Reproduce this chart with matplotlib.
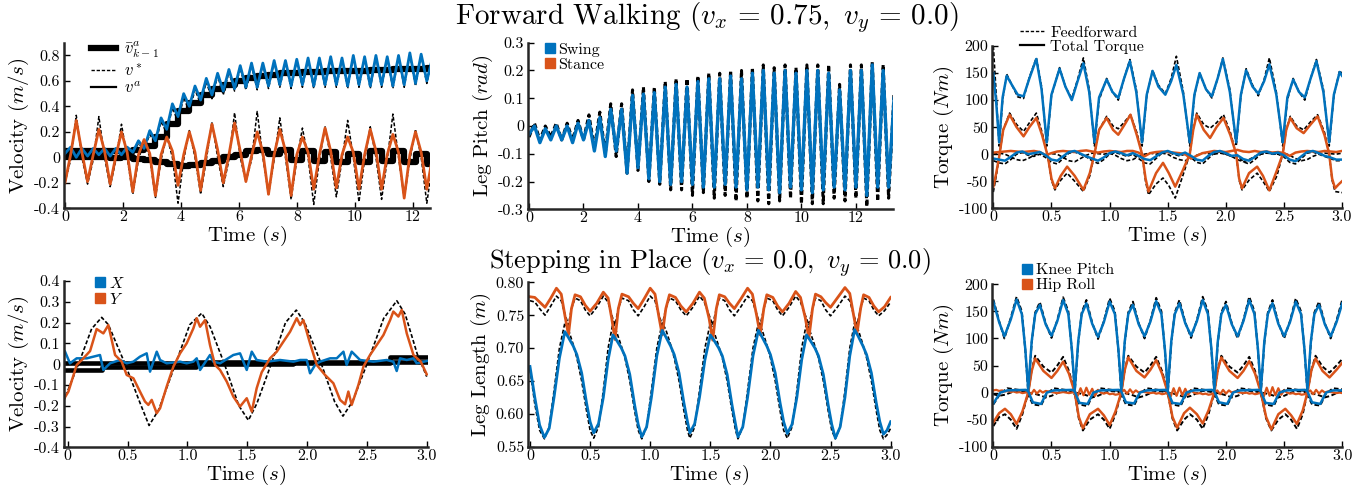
import numpy as np
import matplotlib
matplotlib.use('Agg')
import matplotlib.pyplot as plt
from matplotlib.lines import Line2D

plt.rcParams.update({
    'font.family': 'serif',
    'font.serif': ['cmr10'],
    'mathtext.fontset': 'cm',
    'axes.formatter.use_mathtext': True,
    'axes.unicode_minus': False,
})

BLUE = '#0072BD'
ORANGE = '#D95319'
DASH = (0, (2.4, 1.3))

# ---------------- Forward walking: velocity (sampled every 0.195 s) ----------------
dt_walk = 0.195
vx_walk = [0.03, 0.08, 0.00, 0.07, 0.01, 0.07, 0.02, 0.07, 0.01, 0.07, 0.02, 0.08,
           0.04, 0.13, 0.07, 0.21, 0.13, 0.31, 0.22, 0.42, 0.32, 0.50, 0.40, 0.56,
           0.45, 0.62, 0.49, 0.66, 0.52, 0.69, 0.54, 0.72, 0.55, 0.74, 0.55, 0.74,
           0.56, 0.76, 0.57, 0.76, 0.56, 0.77, 0.57, 0.78, 0.56, 0.78, 0.57, 0.79,
           0.57, 0.78, 0.56, 0.80, 0.57, 0.79, 0.56, 0.80, 0.57, 0.79, 0.56, 0.80,
           0.57, 0.82, 0.58, 0.81, 0.60, 0.78]
vx_walk_ref = [0.02, 0.06, 0.01, 0.06, 0.02, 0.06, 0.02, 0.06, 0.02, 0.06, 0.02, 0.07,
               0.03, 0.11, 0.06, 0.18, 0.11, 0.28, 0.19, 0.39, 0.28, 0.47, 0.36, 0.53,
               0.42, 0.59, 0.46, 0.64, 0.49, 0.67, 0.52, 0.70, 0.53, 0.72, 0.53, 0.73,
               0.54, 0.75, 0.55, 0.75, 0.54, 0.76, 0.55, 0.77, 0.54, 0.77, 0.55, 0.78,
               0.55, 0.77, 0.54, 0.79, 0.55, 0.78, 0.54, 0.79, 0.55, 0.78, 0.54, 0.79,
               0.55, 0.81, 0.56, 0.80, 0.58, 0.79]
vy_walk = [-0.20, 0.02, 0.29, 0.04, -0.19, 0.02, 0.22, 0.05, -0.21, 0.01, 0.20, 0.04,
           -0.27, 0.02, 0.14, 0.03, -0.30, 0.02, 0.16, 0.05, -0.22, 0.02, 0.20, 0.04,
           -0.26, 0.03, 0.26, 0.06, -0.20, 0.02, 0.27, 0.05, -0.19, 0.01, 0.20, 0.04,
           -0.29, 0.02, 0.22, 0.05, -0.30, 0.02, 0.16, 0.04, -0.25, 0.02, 0.23, 0.05,
           -0.24, 0.02, 0.16, 0.04, -0.25, 0.02, 0.22, 0.05, -0.25, 0.02, 0.18, 0.04,
           -0.32, 0.02, 0.20, 0.04, -0.25, 0.00]
vy_walk_ref = [-0.20, -0.02, 0.33, 0.00, -0.21, -0.02, 0.32, 0.00, -0.23, -0.02, 0.26, 0.00,
               -0.29, -0.02, 0.13, 0.00, -0.32, -0.02, 0.17, 0.00, -0.36, -0.02, 0.21, 0.00,
               -0.29, -0.02, 0.28, 0.00, -0.23, -0.02, 0.35, 0.00, -0.19, -0.02, 0.36, 0.00,
               -0.29, -0.02, 0.31, 0.00, -0.33, -0.02, 0.23, 0.00, -0.37, -0.02, 0.24, 0.00,
               -0.31, -0.02, 0.29, 0.00, -0.35, -0.02, 0.24, 0.00, -0.33, -0.02, 0.34, 0.00,
               -0.32, -0.02, 0.22, 0.00, -0.36, -0.05]
# step averages (one value per 0.39 s step)
dt_step = 0.39
vx_walk_avg = [0.05, 0.05, 0.05, 0.05, 0.05, 0.05, 0.06, 0.09, 0.16, 0.26, 0.36, 0.43,
               0.49, 0.54, 0.57, 0.60, 0.62, 0.64, 0.65, 0.66, 0.665, 0.67, 0.67, 0.675,
               0.68, 0.68, 0.68, 0.685, 0.685, 0.69, 0.69, 0.69, 0.70, 0.70]
vy_walk_avg = [0.0, 0.0, 0.0, 0.0, -0.005, 0.0, -0.01, -0.02, -0.035, -0.05, -0.065, -0.06,
               -0.045, -0.025, 0.0, 0.02, 0.05, 0.055, 0.03, 0.06, -0.02, 0.05, -0.03, 0.04,
               -0.04, 0.03, -0.04, 0.05, -0.03, 0.05, -0.04, 0.03, -0.05, -0.06]

# ---------------- Forward walking: leg pitch (extrema every 0.2 s) ----------------
dt_pitch = 0.2
pitch_trough = [-0.03, -0.06, -0.05, -0.05, -0.06, -0.05, -0.09, -0.11, -0.09, -0.17, -0.15, -0.19,
                -0.20, -0.21, -0.20, -0.21, -0.22, -0.22, -0.21, -0.22, -0.23, -0.22, -0.23, -0.24,
                -0.22, -0.23, -0.24, -0.23, -0.22, -0.23, -0.22, -0.25, -0.22, -0.22]
pitch_peak = [0.0, -0.01, 0.0, 0.0, 0.01, 0.02, 0.03, 0.06, 0.06, 0.11, 0.115, 0.12,
              0.14, 0.15, 0.14, 0.16, 0.17, 0.17, 0.18, 0.17, 0.19, 0.20, 0.19, 0.20,
              0.19, 0.20, 0.20, 0.19, 0.13, 0.20, 0.20, 0.22, 0.20, 0.10]
pitch_ref_trough = [-0.04, -0.05, -0.04, -0.05, -0.05, -0.05, -0.08, -0.10, -0.11, -0.17, -0.16, -0.20,
                    -0.21, -0.23, -0.23, -0.25, -0.24, -0.26, -0.25, -0.27, -0.26, -0.27, -0.28, -0.27,
                    -0.26, -0.28, -0.28, -0.28, -0.26, -0.27, -0.26, -0.29, -0.27, -0.26]
pitch_ref_peak = [0.01, 0.0, 0.01, 0.01, 0.02, 0.04, 0.05, 0.08, 0.08, 0.13, 0.14, 0.14,
                  0.16, 0.17, 0.17, 0.18, 0.19, 0.19, 0.20, 0.20, 0.21, 0.22, 0.21, 0.22,
                  0.21, 0.22, 0.22, 0.22, 0.15, 0.22, 0.22, 0.23, 0.22, 0.12]

# ---------------- Forward walking: torques ----------------
knee_w_t = [0.0, 0.025,
            0.05, 0.08, 0.115, 0.16, 0.21, 0.26, 0.31, 0.37, 0.415,
            0.46, 0.50, 0.57, 0.62, 0.675, 0.725, 0.775, 0.825,
            0.87, 0.91, 0.975, 1.025, 1.075, 1.125, 1.175, 1.23,
            1.28, 1.32, 1.37, 1.42, 1.48, 1.53, 1.575, 1.635,
            1.69, 1.73, 1.775, 1.83, 1.88, 1.93, 1.975, 2.035,
            2.09, 2.13, 2.175, 2.23, 2.28, 2.33, 2.375, 2.435,
            2.49, 2.53, 2.58, 2.63, 2.68, 2.73, 2.78, 2.84,
            2.89, 2.93, 2.98, 3.0]
knee_w = [150, 95,
          22, 105, 145, 128, 110, 107, 140, 176, 120,
          22, 110, 158, 125, 100, 135, 168, 115,
          22, 105, 138, 115, 104, 140, 172, 115,
          22, 110, 154, 125, 110, 135, 165, 110,
          22, 110, 150, 120, 107, 140, 176, 115,
          22, 110, 155, 125, 112, 135, 166, 110,
          22, 105, 138, 115, 105, 140, 172, 115,
          22, 110, 152, 145]
knee_w_ff = [200, 110,
             15, 100, 148, 128, 106, 103, 142, 178, 125,
             15, 108, 160, 125, 103, 138, 178, 120,
             15, 100, 140, 115, 100, 140, 175, 120,
             15, 108, 155, 128, 112, 140, 181, 115,
             15, 108, 150, 120, 104, 140, 178, 120,
             15, 108, 158, 128, 108, 138, 178, 115,
             15, 100, 140, 115, 100, 140, 175, 120,
             15, 108, 155, 148]
hip_w_t = [0.0, 0.025,
           0.05, 0.085, 0.14, 0.2, 0.26, 0.31, 0.37, 0.42,
           0.47, 0.5, 0.53, 0.58, 0.635, 0.7, 0.775, 0.83,
           0.87, 0.91, 0.975, 1.03, 1.075, 1.13, 1.18, 1.235,
           1.28, 1.31, 1.335, 1.4, 1.46, 1.51, 1.565, 1.63,
           1.69, 1.72, 1.75, 1.81, 1.865, 1.92, 1.98, 2.04,
           2.09, 2.115, 2.14, 2.2, 2.27, 2.32, 2.375, 2.44,
           2.49, 2.52, 2.555, 2.61, 2.67, 2.73, 2.79, 2.85,
           2.89, 2.915, 2.94, 2.97, 3.0]
hip_w = [-60, -35,
         -5, 45, 73, 50, 33, 50, 67, 35,
         -5, -45, -63, -40, -23, -40, -66, -35,
         0, 45, 67, 45, 36, 55, 73, 35,
         0, -45, -69, -35, -16, -35, -60, -30,
         0, 45, 73, 45, 30, 50, 67, 35,
         0, -45, -63, -35, -23, -40, -67, -30,
         0, 45, 67, 48, 39, 55, 70, 35,
         0, -45, -63, -56, -50]
hip_w_ff = [-70, -40,
            -5, 45, 76, 55, 42, 58, 76, 40,
            -5, -48, -66, -48, -35, -50, -69, -40,
            0, 45, 70, 52, 47, 60, 73, 40,
            0, -50, -75, -55, -44, -58, -81, -40,
            0, 45, 76, 55, 48, 58, 73, 40,
            0, -48, -66, -48, -35, -50, -69, -40,
            0, 45, 70, 52, 45, 60, 73, 40,
            0, -48, -69, -70, -71]
# near-zero traces, sampled every 0.05 s
knee_w_low = [-8, -10, -12, -5, 3, 5, 0, 2, 4, -2,
              -10, -12, -4, 4, 6, 1, -4, -8, -12, -6,
              2, 5, 2, -2, 2, -3, -9, -11, -4, 3,
              6, 2, -1, 3, -3, -10, -12, -3, 4, 6,
              2, -3, -2, -9, -12, -5, 3, 5, 1, 3,
              -2, -10, -13, -4, 4, 6, 2, -3, -6, -10, -10]
knee_w_low_ff = [-12, -16, -18, -10, 0, 3, -2, -4, 0, -6,
                 -15, -18, -8, 2, 4, 0, -5, -12, -17, -10,
                 0, 3, 0, -4, 0, -8, -16, -18, -8, 2,
                 4, 0, -3, 0, -6, -15, -18, -8, 2, 4,
                 0, -4, -2, -14, -18, -10, 0, 3, 0, 0,
                 -5, -15, -18, -8, 2, 4, 0, -4, -8, -12, -12]
hip_w_low = [3, 4, 5, 6, 5, 4, 5, 6, 4, -2,
             2, 5, 6, 5, 4, 6, 7, 5, 3, 5,
             6, 5, 4, 6, 6, 3, -4, 2, 4, 5,
             4, 3, 2, 0, -8, -3, 2, 4, 6, 5,
             4, 6, 8, 5, 4, 6, 4, 5, 3, 4,
             2, -3, 3, 5, 6, 5, 4, 6, 5, 4, 6]
hip_w_low_ff = [0, 2, 0, -5, -10, -12, -8, -2, 2, 0,
                1, 0, -6, -12, -14, -8, -2, 2, 1, 0,
                2, -2, -8, -12, -10, -4, 0, 2, 0, 2,
                0, -6, -10, -12, -8, -2, 2, 1, 0, 2,
                0, -4, -10, -14, -10, -4, 0, 2, 1, 0,
                2, -2, -8, -12, -10, -4, 0, 2, 1, 0, 2]

# ---------------- Stepping in place: velocity ----------------
vy_step_t = [-0.036, 0.006, 0.075, 0.131, 0.187, 0.242, 0.298, 0.340, 0.396, 0.451,
             0.493, 0.549, 0.604, 0.646, 0.674, 0.702, 0.744, 0.772, 0.827, 0.883,
             0.939, 0.994, 1.050, 1.078, 1.106, 1.148, 1.189, 1.231, 1.273, 1.329,
             1.384, 1.440, 1.496, 1.538, 1.579, 1.621, 1.691, 1.747, 1.802, 1.858,
             1.914, 1.942, 1.969, 2.025, 2.081, 2.150, 2.220, 2.276, 2.318, 2.345,
             2.373, 2.429, 2.471, 2.526, 2.582, 2.638, 2.694, 2.721, 2.763, 2.791,
             2.833, 2.889, 2.950, 3.000]
vy_step = [-0.172, -0.132, -0.004, 0.028, 0.063, 0.169, 0.148, 0.188, 0.044, 0.012,
           -0.052, -0.068, -0.132, -0.180, -0.196, -0.172, -0.236, -0.212, -0.108, -0.012,
           0.052, 0.100, 0.172, 0.221, 0.180, 0.212, 0.092, -0.004, -0.028, -0.084,
           -0.156, -0.204, -0.164, -0.228, -0.116, -0.039, 0.028, 0.060, 0.108, 0.156,
           0.221, 0.188, 0.212, 0.100, -0.004, -0.052, -0.092, -0.172, -0.193, -0.132,
           -0.196, -0.100, -0.012, 0.044, 0.092, 0.140, 0.212, 0.253, 0.229, 0.261,
           0.148, 0.044, 0.012, -0.049]
vy_step_ref_t = [-0.036, 0.09, 0.2, 0.284, 0.34, 0.48, 0.6, 0.68, 0.76, 0.9,
                 1.02, 1.12, 1.19, 1.31, 1.43, 1.51, 1.58, 1.7, 1.82, 1.91,
                 1.98, 2.12, 2.23, 2.30, 2.38, 2.5, 2.64, 2.75, 2.82, 2.92, 3.0]
vy_step_ref = [-0.18, 0.0, 0.17, 0.225, 0.19, 0.0, -0.18, -0.295, -0.22, 0.0,
               0.19, 0.245, 0.18, 0.0, -0.2, -0.27, -0.19, 0.0, 0.2, 0.26,
               0.2, 0.0, -0.18, -0.25, -0.18, 0.0, 0.22, 0.305, 0.24, 0.05, -0.06]
vx_step_t = [-0.022, 0.019, 0.075, 0.159, 0.270, 0.298, 0.354, 0.437, 0.493, 0.549,
             0.604, 0.660, 0.688, 0.744, 0.772, 0.827, 0.939, 0.994, 1.050, 1.078,
             1.106, 1.162, 1.189, 1.217, 1.273, 1.384, 1.440, 1.496, 1.538, 1.579,
             1.663, 1.774, 1.886, 1.942, 1.997, 2.025, 2.067, 2.109, 2.192, 2.248,
             2.304, 2.331, 2.373, 2.443, 2.554, 2.666, 2.721, 2.749, 2.777, 2.833,
             2.889, 2.916, 3.0]
vx_step = [0.060, 0.004, 0.028, 0.028, 0.044, -0.028, 0.004, 0.020, 0.004, 0.012,
           0.036, 0.052, -0.036, 0.060, 0.020, 0.004, 0.012, 0.004, 0.012, 0.028,
           -0.028, 0.020, 0.044, 0.012, 0.004, 0.044, 0.052, -0.028, 0.060, 0.020,
           0.012, 0.020, 0.012, 0.020, 0.020, -0.044, -0.004, 0.012, 0.028, 0.028,
           0.060, -0.004, 0.060, 0.020, 0.012, 0.020, 0.012, -0.033, 0.028, 0.020,
           0.028, 0.004, 0.015]
avg_a_t = [-0.04, 1.07, 1.88, 2.69, 3.01]
avg_a = [0.005, 0.008, 0.01, 0.035, 0.035]
avg_b_t = [-0.04, 0.29, 1.07, 1.88, 2.69, 3.01]
avg_b = [-0.03, -0.013, 0.0, 0.006, 0.012, 0.012]

# ---------------- Stepping in place: leg length ----------------
stance_t = [0.0, 0.04, 0.08, 0.125, 0.17, 0.22, 0.26, 0.29, 0.32,
            0.345, 0.375, 0.42, 0.46, 0.50, 0.555, 0.61, 0.65, 0.68, 0.707,
            0.735, 0.765, 0.82, 0.86, 0.90, 0.95, 1.0, 1.04, 1.07, 1.10,
            1.13, 1.16, 1.21, 1.255, 1.30, 1.355, 1.41, 1.45, 1.49, 1.52,
            1.55, 1.575, 1.62, 1.66, 1.70, 1.755, 1.81, 1.85, 1.885, 1.915,
            1.945, 1.97, 2.02, 2.06, 2.10, 2.155, 2.21, 2.25, 2.29, 2.32,
            2.35, 2.375, 2.42, 2.46, 2.50, 2.56, 2.62, 2.66, 2.69, 2.72,
            2.75, 2.775, 2.82, 2.86, 2.90, 2.95, 3.0]
stance_len = [0.778, 0.777, 0.770, 0.762, 0.775, 0.791, 0.782, 0.750, 0.720,
              0.760, 0.781, 0.778, 0.765, 0.756, 0.768, 0.785, 0.776, 0.745, 0.713,
              0.760, 0.782, 0.778, 0.768, 0.760, 0.775, 0.791, 0.782, 0.750, 0.720,
              0.760, 0.781, 0.777, 0.764, 0.755, 0.768, 0.785, 0.776, 0.745, 0.712,
              0.760, 0.781, 0.778, 0.768, 0.760, 0.775, 0.791, 0.782, 0.750, 0.720,
              0.760, 0.781, 0.777, 0.764, 0.755, 0.768, 0.786, 0.777, 0.746, 0.715,
              0.760, 0.782, 0.778, 0.769, 0.762, 0.777, 0.792, 0.783, 0.752, 0.722,
              0.760, 0.781, 0.777, 0.764, 0.755, 0.763, 0.777]
stance_len_ref = [0.772, 0.770, 0.760, 0.750, 0.763, 0.779, 0.772, 0.752, 0.735,
                  0.760, 0.776, 0.772, 0.758, 0.749, 0.762, 0.779, 0.770, 0.750, 0.735,
                  0.760, 0.776, 0.772, 0.758, 0.749, 0.763, 0.779, 0.772, 0.752, 0.735,
                  0.760, 0.776, 0.772, 0.758, 0.749, 0.762, 0.779, 0.770, 0.750, 0.735,
                  0.760, 0.776, 0.772, 0.758, 0.749, 0.763, 0.779, 0.772, 0.752, 0.735,
                  0.760, 0.776, 0.772, 0.758, 0.749, 0.762, 0.779, 0.770, 0.750, 0.735,
                  0.760, 0.776, 0.772, 0.758, 0.749, 0.763, 0.779, 0.772, 0.752, 0.735,
                  0.760, 0.776, 0.772, 0.758, 0.749, 0.757, 0.770]
swing_t = [0.0, 0.04, 0.08, 0.12, 0.16, 0.20, 0.245, 0.29,
           0.32, 0.36, 0.39, 0.43, 0.47, 0.50, 0.53, 0.57, 0.61, 0.65,
           0.69, 0.72, 0.76, 0.79, 0.83, 0.87, 0.90, 0.93, 0.97, 1.01, 1.055,
           1.10, 1.13, 1.17, 1.20, 1.24, 1.28, 1.31, 1.33, 1.37, 1.41, 1.455,
           1.50, 1.53, 1.57, 1.60, 1.64, 1.68, 1.71, 1.73, 1.77, 1.81, 1.855,
           1.90, 1.93, 1.97, 2.00, 2.04, 2.08, 2.11, 2.14, 2.18, 2.22, 2.26,
           2.30, 2.33, 2.37, 2.40, 2.44, 2.48, 2.51, 2.54, 2.58, 2.62, 2.66,
           2.70, 2.73, 2.77, 2.80, 2.84, 2.88, 2.91, 2.94, 2.97, 3.0]
swing_len = [0.672, 0.625, 0.583, 0.564, 0.578, 0.625, 0.685, 0.725,
             0.716, 0.703, 0.690, 0.662, 0.617, 0.588, 0.571, 0.585, 0.625, 0.682,
             0.720, 0.712, 0.700, 0.688, 0.660, 0.614, 0.584, 0.565, 0.580, 0.625, 0.688,
             0.727, 0.717, 0.703, 0.690, 0.662, 0.617, 0.588, 0.571, 0.585, 0.625, 0.682,
             0.720, 0.712, 0.700, 0.688, 0.660, 0.614, 0.584, 0.565, 0.580, 0.625, 0.688,
             0.727, 0.717, 0.703, 0.690, 0.662, 0.617, 0.588, 0.570, 0.584, 0.625, 0.682,
             0.720, 0.712, 0.700, 0.688, 0.660, 0.614, 0.584, 0.563, 0.580, 0.625, 0.688,
             0.728, 0.718, 0.703, 0.690, 0.662, 0.617, 0.588, 0.569, 0.575, 0.588]
swing_len_ref = [0.668, 0.615, 0.575, 0.562, 0.580, 0.635, 0.700, 0.738,
                 0.728, 0.705, 0.685, 0.650, 0.605, 0.575, 0.563, 0.580, 0.635, 0.700,
                 0.738, 0.725, 0.703, 0.685, 0.650, 0.605, 0.575, 0.562, 0.580, 0.635, 0.700,
                 0.738, 0.728, 0.705, 0.685, 0.650, 0.605, 0.575, 0.563, 0.580, 0.635, 0.700,
                 0.738, 0.725, 0.703, 0.685, 0.650, 0.605, 0.575, 0.562, 0.580, 0.635, 0.700,
                 0.738, 0.728, 0.705, 0.685, 0.650, 0.605, 0.575, 0.563, 0.580, 0.635, 0.700,
                 0.738, 0.725, 0.703, 0.685, 0.650, 0.605, 0.575, 0.562, 0.580, 0.635, 0.700,
                 0.738, 0.728, 0.705, 0.685, 0.650, 0.605, 0.575, 0.562, 0.568, 0.578]

# ---------------- Stepping in place: torques ----------------
knee_s_t = [0.0, 0.05, 0.095, 0.15, 0.2, 0.245, 0.275,
            0.3, 0.33, 0.36, 0.4, 0.45, 0.5, 0.55, 0.6, 0.645, 0.675,
            0.7, 0.73, 0.76, 0.8, 0.85, 0.9, 0.95, 1.0, 1.045, 1.075,
            1.1, 1.13, 1.16, 1.2, 1.25, 1.3, 1.35, 1.4, 1.445, 1.475,
            1.5, 1.53, 1.56, 1.6, 1.65, 1.7, 1.75, 1.8, 1.845, 1.875,
            1.9, 1.93, 1.96, 2.0, 2.05, 2.1, 2.15, 2.2, 2.245, 2.275,
            2.3, 2.33, 2.36, 2.4, 2.45, 2.5, 2.55, 2.6, 2.645, 2.675,
            2.7, 2.73, 2.76, 2.8, 2.85, 2.9, 2.95, 3.0]
knee_s = [168, 130, 104, 135, 172, 145, 80,
          5, 95, 145, 162, 126, 105, 132, 171, 145, 80,
          5, 95, 145, 165, 127, 103, 130, 168, 145, 80,
          5, 95, 145, 162, 126, 104, 131, 169, 145, 80,
          5, 95, 145, 165, 128, 105, 132, 171, 145, 80,
          5, 95, 145, 162, 126, 104, 132, 171, 145, 80,
          5, 95, 145, 165, 127, 104, 130, 168, 145, 80,
          5, 95, 145, 162, 126, 104, 130, 165]
knee_s_ff = [172, 132, 100, 138, 177, 150, 78,
             0, 92, 148, 167, 128, 101, 134, 176, 150, 78,
             0, 92, 148, 171, 129, 99, 132, 174, 150, 78,
             0, 92, 148, 168, 128, 100, 133, 175, 150, 78,
             0, 92, 148, 171, 130, 101, 134, 177, 150, 78,
             0, 92, 148, 168, 128, 100, 134, 177, 150, 78,
             0, 92, 148, 171, 129, 100, 132, 174, 150, 78,
             0, 92, 148, 168, 128, 100, 133, 172]
knee_s_low_t = [0.0, 0.06, 0.12, 0.28,
                0.3, 0.34, 0.41, 0.46, 0.52, 0.68,
                0.7, 0.74, 0.81, 0.86, 0.92, 1.08,
                1.1, 1.14, 1.21, 1.26, 1.32, 1.48,
                1.5, 1.54, 1.61, 1.66, 1.72, 1.88,
                1.9, 1.94, 2.01, 2.06, 2.12, 2.28,
                2.3, 2.34, 2.41, 2.46, 2.52, 2.68,
                2.7, 2.74, 2.81, 2.86, 2.92, 3.0]
knee_s_low = [-20, 0, 4, 5,
              2, -18, -21, 0, 4, 5,
              2, -19, -21, 0, 4, 5,
              2, -18, -20, 0, 4, 5,
              2, -19, -21, 0, 4, 5,
              2, -18, -21, 0, 4, 5,
              2, -19, -21, 0, 4, 5,
              2, -18, -21, 0, 4, 4]
knee_s_low_ff = [-22, -2, 8, 3,
                 -4, -22, -24, -2, 8, 3,
                 -4, -22, -25, -2, 8, 3,
                 -4, -22, -24, -2, 8, 3,
                 -4, -22, -25, -2, 8, 3,
                 -4, -22, -24, -2, 8, 3,
                 -4, -22, -25, -2, 8, 3,
                 -4, -22, -24, -2, 8, 6]
hip_s_t = [0.0, 0.05, 0.1, 0.15, 0.2, 0.25,
           0.3, 0.33, 0.36, 0.43, 0.5, 0.55, 0.6, 0.65,
           0.7, 0.735, 0.77, 0.83, 0.9, 0.95, 1.0, 1.05,
           1.1, 1.13, 1.16, 1.23, 1.3, 1.35, 1.4, 1.45,
           1.5, 1.54, 1.58, 1.64, 1.69, 1.75, 1.8, 1.85,
           1.9, 1.93, 1.96, 2.03, 2.1, 2.15, 2.2, 2.25,
           2.3, 2.345, 2.39, 2.45, 2.51, 2.56, 2.61, 2.66,
           2.7, 2.735, 2.77, 2.83, 2.89, 2.95, 3.0]
hip_s = [-55, -38, -30, -40, -58, -35,
         0, 40, 63, 40, 27, 40, 57, 35,
         0, -45, -66, -40, -30, -42, -60, -35,
         0, 42, 65, 40, 28, 42, 60, 35,
         0, -45, -65, -38, -28, -40, -57, -33,
         0, 42, 65, 40, 27, 40, 58, 35,
         0, -45, -68, -40, -30, -42, -58, -33,
         0, 42, 63, 40, 28, 42, 55]
hip_s_ff = [-62, -45, -40, -50, -67, -40,
            0, 42, 68, 48, 37, 50, 66, 40,
            0, -48, -70, -50, -40, -50, -67, -40,
            0, 42, 68, 48, 37, 50, 66, 40,
            0, -48, -70, -50, -40, -50, -67, -40,
            0, 42, 68, 48, 37, 50, 66, 40,
            0, -48, -70, -50, -40, -50, -67, -40,
            0, 42, 68, 48, 37, 50, 62]
# swing hip roll, sampled every 0.025 s
hip_s_low = [4, 5, 3, 4, 2, 3, 1, 2, 0, 1, -1, 0,
             2, -3, 5, -2, 4, 0, 3,
             2, 1, 0, -1, 0, 1, 0, -1, 0,
             3, -6, 8, -5, 9, -4, 7, -6, 5,
             0, -2, 0, -3, -2, -4, -3,
             0, 5, -2, 6, -1, 4, 0, 2,
             1, 0, -1, 0, -2, -1, -3, -2,
             2, -7, 8, -6, 9, -5, 7, -4, 4,
             0, -2, -1, -3, -2, -4, -3,
             0, 4, -3, 5, -2, 4, 0, 2,
             1, 0, -1, 0, -2, -1, -3, -2,
             2, -7, 9, -6, 10, -5, 8, -4, 4,
             0, -2, -1, -3, -2, -4, -3,
             0, 4, -3, 5, -2, 4, 0, 2,
             1, 0, -1, 0, -1]
# swing hip roll feedforward, sampled every 0.05 s
hip_s_low_ff = [-3, -6, -4, 0, 3, 2, 0, -2,
                -5, -9, -6, -1, 3, 2, 0, -2,
                -5, -9, -6, -1, 3, 2, 0, -2,
                -5, -9, -6, -1, 3, 2, 0, -2,
                -5, -9, -6, -1, 3, 2, 0, -2,
                -5, -9, -6, -1, 3, 2, 0, -2,
                -5, -9, -6, -1, 3, 2, 0, -2,
                -5, -9, -6, -1, 3]

# ---------------- tick labels ----------------
vel_w_ticks = [-0.4, -0.2, 0, 0.2, 0.4, 0.6, 0.8]
vel_w_labels = ['-0.4', '-0.2', '0', '0.2', '0.4', '0.6', '0.8']
walk_x_ticks = [0, 2, 4, 6, 8, 10, 12]
pitch_ticks = [-0.3, -0.2, -0.1, 0, 0.1, 0.2, 0.3]
pitch_labels = ['-0.3', '-0.2', '-0.1', '0', '0.1', '0.2', '0.3']
torque_ticks = [-100, -50, 0, 50, 100, 150, 200]
short_x_ticks = [0, 0.5, 1.0, 1.5, 2.0, 2.5, 3.0]
short_x_labels = ['0', '0.5', '1.0', '1.5', '2.0', '2.5', '3.0']
vel_s_ticks = [-0.4, -0.3, -0.2, -0.1, 0, 0.1, 0.2, 0.3, 0.4]
vel_s_labels = ['-0.4', '-0.3', '-0.2', '-0.1', '0', '0.1', '0.2', '0.3', '0.4']
len_ticks = [0.55, 0.60, 0.65, 0.70, 0.75, 0.80]
len_labels = ['0.55', '0.60', '0.65', '0.70', '0.75', '0.80']

W, H = 1369, 487
fig = plt.figure(figsize=(W / 100, H / 100), dpi=100)


def make_ax(l, t, r, b):
    ax = fig.add_axes([l / W, 1 - b / H, (r - l) / W, (b - t) / H])
    for s in ['top', 'right']:
        ax.spines[s].set_visible(False)
    for s in ['left', 'bottom']:
        ax.spines[s].set_linewidth(1.8)
        ax.spines[s].set_color('#262626')
    ax.tick_params(direction='in', length=4, width=1, labelsize=11.5)
    ax.tick_params(axis='x', pad=1.5)
    ax.tick_params(axis='y', pad=2.5)
    return ax


def square_legend(ax, labels, anchor):
    h = [Line2D([], [], marker='s', ls='none', color=c, markersize=6.5) for c in (BLUE, ORANGE)]
    ax.legend(h, labels, loc='upper left', bbox_to_anchor=anchor, frameon=False, fontsize=11.5,
              handlelength=0.7, handletextpad=0.2, labelspacing=0.05, borderaxespad=0, borderpad=0)


def label_axes(ax, ylabel):
    ax.set_xlabel(r'Time $(s)$', fontsize=15, labelpad=0)
    ax.set_ylabel(ylabel, fontsize=15, labelpad=2)


# panel 1: walking velocity
ax = make_ax(63.5, 42.7, 430, 208.3)
t = np.arange(len(vx_walk)) * dt_walk
ts = np.arange(len(vx_walk_avg)) * dt_step
ax.plot(ts, vx_walk_avg, color='k', lw=4.5, drawstyle='steps-post')
ax.plot(ts, vy_walk_avg, color='k', lw=4.5, drawstyle='steps-post')
ax.plot(t, vx_walk_ref, color='k', lw=1.1, ls=DASH)
ax.plot(t, vy_walk_ref, color='k', lw=1.1, ls=DASH)
ax.plot(t, vx_walk, color=BLUE, lw=2.0)
ax.plot(t, vy_walk, color=ORANGE, lw=2.0)
ax.set_xlim(-0.05, 12.59)
ax.set_ylim(-0.4, 0.9)
ax.set_yticks(vel_w_ticks, vel_w_labels)
ax.set_xticks(walk_x_ticks, [str(v) for v in walk_x_ticks])
label_axes(ax, r'Velocity $(m/s)$')
h = [Line2D([], [], color='k', lw=4.5), Line2D([], [], color='k', lw=1.0, ls=DASH),
     Line2D([], [], color='k', lw=1.6)]
ax.legend(h, [r'$\bar{v}^a_{k-1}$', r'$v^*$', r'$v^a$'], loc='upper left', bbox_to_anchor=(0.075, 1.02),
          frameon=False, fontsize=12, handlelength=1.5, handletextpad=0.5, labelspacing=0.1,
          borderaxespad=0, borderpad=0)

# panel 2: leg pitch
ax = make_ax(527.5, 42.7, 892.7, 209.3)
pitch = np.column_stack([pitch_trough, pitch_peak]).ravel()
pitch_ref = np.column_stack([pitch_ref_trough, pitch_ref_peak]).ravel()
t = np.arange(len(pitch)) * dt_pitch
ax.plot(t, pitch_ref, color='k', lw=2.2, ls=(0, (1.6, 0.9)))
ax.plot(t, pitch, color=BLUE, lw=2.4)
ax.set_xlim(-0.055, 13.35)
ax.set_ylim(-0.3, 0.3)
ax.set_yticks(pitch_ticks, pitch_labels)
ax.set_xticks(walk_x_ticks, [str(v) for v in walk_x_ticks])
label_axes(ax, r'Leg Pitch $(rad)$')
square_legend(ax, ['Swing', 'Stance'], (0.045, 1.0))

# panel 3: walking torque
ax = make_ax(991.7, 46, 1342, 208.3)
tl = np.linspace(0, 3, len(knee_w_low))
ax.plot(knee_w_t, knee_w_ff, color='k', lw=1.2, ls=DASH)
ax.plot(hip_w_t, hip_w_ff, color='k', lw=1.2, ls=DASH)
ax.plot(tl, knee_w_low_ff, color='k', lw=1.2, ls=DASH)
ax.plot(tl, hip_w_low_ff, color='k', lw=1.2, ls=DASH)
ax.plot(tl, hip_w_low, color=ORANGE, lw=1.8)
ax.plot(hip_w_t, hip_w, color=ORANGE, lw=1.8)
ax.plot(tl, knee_w_low, color=BLUE, lw=1.8)
ax.plot(knee_w_t, knee_w, color=BLUE, lw=1.8)
ax.set_xlim(-0.014, 3.0)
ax.set_ylim(-100, 200)
ax.set_yticks(torque_ticks, [str(v) for v in torque_ticks])
ax.set_xticks(short_x_ticks, short_x_labels)
label_axes(ax, r'Torque $(Nm)$')
h = [Line2D([], [], color='k', lw=1.0, ls=DASH), Line2D([], [], color='k', lw=1.6)]
ax.legend(h, ['Feedforward', 'Total Torque'], loc='upper left', bbox_to_anchor=(0.08, 1.125),
          frameon=False, fontsize=11.5, handlelength=1.5, handletextpad=0.4, labelspacing=0.0,
          borderaxespad=0, borderpad=0)

# panel 4: stepping velocity
ax = make_ax(63.5, 281, 427.7, 447.3)
ax.plot(avg_a_t, avg_a, color='k', lw=3.3, drawstyle='steps-post')
ax.plot(avg_b_t, avg_b, color='k', lw=3.3, drawstyle='steps-post')
ax.plot(vy_step_ref_t, vy_step_ref, color='k', lw=1.2, ls=DASH)
ax.plot(vx_step_t, vx_step, color=BLUE, lw=1.8)
ax.plot(vy_step_t, vy_step, color=ORANGE, lw=1.8)
ax.set_xlim(-0.035, 3.008)
ax.set_ylim(-0.4, 0.4)
ax.set_yticks(vel_s_ticks, vel_s_labels)
ax.set_xticks(short_x_ticks, short_x_labels)
label_axes(ax, r'Velocity $(m/s)$')
square_legend(ax, [r'$X$', r'$Y$'], (0.085, 1.03))

# panel 5: leg length
ax = make_ax(527.7, 282.3, 891, 446.7)
ax.plot(stance_t, stance_len_ref, color='k', lw=1.2, ls=DASH)
ax.plot(swing_t, swing_len_ref, color='k', lw=1.2, ls=DASH)
ax.plot(stance_t, stance_len, color=ORANGE, lw=2.0)
ax.plot(swing_t, swing_len, color=BLUE, lw=2.0)
ax.set_xlim(-0.019, 3.003)
ax.set_ylim(0.55, 0.80)
ax.set_yticks(len_ticks, len_labels)
ax.set_xticks(short_x_ticks, short_x_labels)
label_axes(ax, r'Leg Length $(m)$')

# panel 6: stepping torque
ax = make_ax(991.7, 284.3, 1342.3, 446.7)
t_fine = np.linspace(0, 3, len(hip_s_low))
t_ff = np.linspace(0, 3, len(hip_s_low_ff))
ax.plot(knee_s_t, knee_s_ff, color='k', lw=1.4, ls=DASH)
ax.plot(hip_s_t, hip_s_ff, color='k', lw=1.4, ls=DASH)
ax.plot(knee_s_low_t, knee_s_low_ff, color='k', lw=1.4, ls=DASH)
ax.plot(t_ff, hip_s_low_ff, color='k', lw=1.4, ls=DASH)
ax.plot(t_fine, hip_s_low, color=ORANGE, lw=1.6)
ax.plot(hip_s_t, hip_s, color=ORANGE, lw=1.8)
ax.plot(knee_s_low_t, knee_s_low, color=BLUE, lw=1.8)
ax.plot(knee_s_t, knee_s, color=BLUE, lw=1.8)
ax.set_xlim(-0.014, 3.0)
ax.set_ylim(-100, 200)
ax.set_yticks(torque_ticks, [str(v) for v in torque_ticks])
ax.set_xticks(short_x_ticks, short_x_labels)
label_axes(ax, r'Torque $(Nm)$')
square_legend(ax, ['Knee Pitch', 'Hip Roll'], (0.085, 1.13))

fig.text(707 / W, 1 - 18 / H, r'Forward Walking $(v_x\,=\,0.75,\ v_y\,=\,0.0)$',
         ha='center', va='center', fontsize=21)
fig.text(710 / W, 1 - 263 / H, r'Stepping in Place $(v_x\,=\,0.0,\ v_y\,=\,0.0)$',
         ha='center', va='center', fontsize=19)

fig.savefig('out.png', dpi=100)
